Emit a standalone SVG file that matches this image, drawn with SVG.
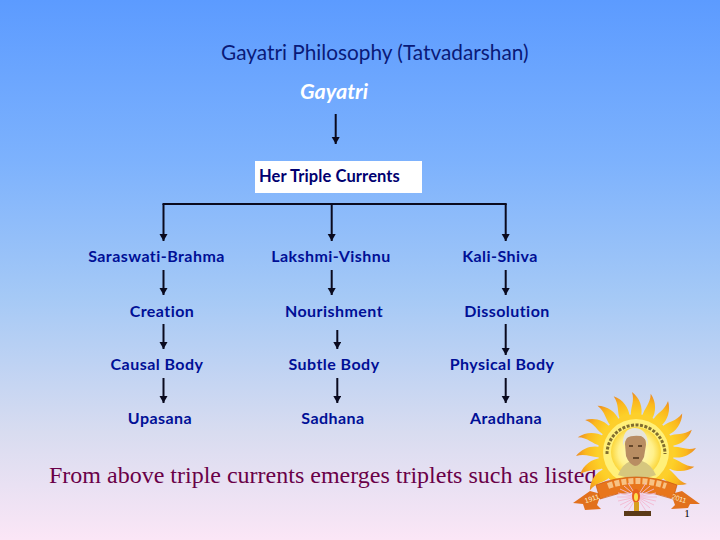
<svg xmlns="http://www.w3.org/2000/svg" width="720" height="540" viewBox="0 0 720 540">
<style>
.t{font-family:"Lato","Open Sans",sans-serif;}
.l{font-family:"Lato","Open Sans",sans-serif;font-weight:700;font-size:16px;fill:#000f96;text-anchor:middle;letter-spacing:.45px;}
.c{fill:none;stroke:#0a0a1e;stroke-width:2;}
.a{fill:none;stroke:#0a0a1e;stroke-width:2;marker-end:url(#h);}
</style>
<defs>
<linearGradient id="bg" x1="0" y1="0" x2="0" y2="1">
<stop offset="0" stop-color="#5c9bff"/><stop offset=".3" stop-color="#7db2fd"/><stop offset=".55" stop-color="#a5c9f6"/><stop offset=".8" stop-color="#d8dcf0"/><stop offset="1" stop-color="#fbe6f6"/>
</linearGradient>
<marker id="h" markerUnits="userSpaceOnUse" markerWidth="8" markerHeight="9" refX="7" refY="4" orient="auto"><path d="M0,0L7,4L0,8z" fill="#0a0a1e"/></marker>
<linearGradient id="fl" x1="0" y1="1" x2="0" y2="0"><stop offset="0" stop-color="#fdd52a"/><stop offset=".6" stop-color="#fbb81e"/><stop offset="1" stop-color="#ea8a24"/></linearGradient>
<radialGradient id="disk"><stop offset="0" stop-color="#fffbd0"/><stop offset=".7" stop-color="#fff08a"/><stop offset="1" stop-color="#fbd63a"/></radialGradient>
<path id="f" d="M-5,-36C-6,-44 -1,-50 -4,-60C4,-54 7,-44 5,-36Z" fill="url(#fl)"/>
</defs>
<rect width="720" height="540" fill="url(#bg)"/>
<text class="t" x="221" y="60" font-size="20.8" fill="#0a1a78">Gayatri Philosophy (Tatvadarshan)</text>
<text class="t" x="300" y="99" font-size="21.6" font-style="italic" font-weight="700" fill="#fff">Gayatri</text>
<g id="connectors">
<path class="a" d="M335.7,114V144"/>
<path class="c" d="M162.5,204H506.7"/>
<path class="a" d="M163.5,204V241"/><path class="a" d="M331.7,204V241"/><path class="a" d="M505.7,204V241"/>
<path class="a" d="M163.5,270V295"/><path class="a" d="M331.7,270V295"/><path class="a" d="M505.7,270V295"/>
<path class="a" d="M163.5,324V349"/><path class="a" d="M337.3,330V349"/><path class="a" d="M505.7,324V355"/>
<path class="a" d="M163.5,378V403"/><path class="a" d="M337.3,378V403"/><path class="a" d="M505.7,378V403"/>
</g>
<g id="currents"><rect x="255" y="161" width="167" height="32" fill="#fff"/><text class="t" x="259" y="182" font-size="16.5" font-weight="700" fill="#000070" letter-spacing=".1">Her Triple Currents</text></g>
<g id="n1"><text class="l" x="156.5" y="262">Saraswati-Brahma</text></g>
<g id="n2"><text class="l" x="331" y="262">Lakshmi-Vishnu</text></g>
<g id="n3"><text class="l" x="500" y="262">Kali-Shiva</text></g>
<g id="n4"><text class="l" x="162" y="317">Creation</text></g>
<g id="n5"><text class="l" x="334" y="317">Nourishment</text></g>
<g id="n6"><text class="l" x="507" y="317">Dissolution</text></g>
<g id="n7"><text class="l" x="157" y="370">Causal Body</text></g>
<g id="n8"><text class="l" x="334" y="370">Subtle Body</text></g>
<g id="n9"><text class="l" x="502" y="370">Physical Body</text></g>
<g id="n10"><text class="l" x="160" y="424">Upasana</text></g>
<g id="n11"><text class="l" x="333" y="424">Sadhana</text></g>
<g id="n12"><text class="l" x="506" y="424">Aradhana</text></g>
<text x="49" y="483" font-family="Liberation Serif,serif" font-size="24" fill="#6a0048">From above triple currents emerges triplets such as listed</text>
<g id="logo">
<g transform="translate(636,452)">
<use href="#f" transform="rotate(0)"/><use href="#f" transform="rotate(18)"/><use href="#f" transform="rotate(36)"/><use href="#f" transform="rotate(54)"/><use href="#f" transform="rotate(72)"/><use href="#f" transform="rotate(90)"/><use href="#f" transform="rotate(108)"/><use href="#f" transform="rotate(126)"/><use href="#f" transform="rotate(234)"/><use href="#f" transform="rotate(252)"/><use href="#f" transform="rotate(270)"/><use href="#f" transform="rotate(288)"/><use href="#f" transform="rotate(306)"/><use href="#f" transform="rotate(324)"/><use href="#f" transform="rotate(342)"/>
<circle r="38" fill="#fdcf2c"/>
<circle r="33" fill="#fff07a"/>
<circle r="25" fill="url(#disk)"/>
<path d="M-29,2A29,29 0 1 1 29,2" fill="none" stroke="#4a3410" stroke-width="3" stroke-dasharray="3 1.5" opacity=".7"/>
<path d="M-18,23Q-14,12 -5,9H6Q15,12 20,23Q2,30 -18,23Z" fill="#d6c77e"/>
<path d="M-11,-8Q-11,-19 -1,-19Q10,-19 10,-7L8,5Q4,14 -1,14Q-7,12 -10,4Z" fill="#b88d62"/>
<path d="M-13,-6Q-14,-24 -1,-24Q12,-23 12,-6Q10,-14 5,-16Q-5,-17 -9,-14Q-11,-11 -13,-6Z" fill="#e6e4dc"/>
<path d="M-7,-6H-3M2,-6H6M-3,6H3" stroke="#4a3018" stroke-width="1.4" fill="none"/>
</g>
<path d="M573,503L590,491L601,494L597,505L601,509L585,510L583,504Z" fill="#e2711d"/>
<path d="M700,504L682,491L671,494L675,505L671,509L688,508L690,504Z" fill="#e2711d"/>
<path d="M596,485Q636,469 677,485L673,499Q636,485 600,499Z" fill="#e8761c" stroke="#c9560f" stroke-width=".7"/>
<path d="M608,486Q636,476 666,486" fill="none" stroke="#fde3b0" stroke-width="6" stroke-dasharray="5 2" opacity=".7"/>
<text x="592" y="501" font-family="Liberation Sans,sans-serif" font-size="7" fill="#fff1c8" text-anchor="middle" transform="rotate(-18 592 499)">1911</text>
<text x="679" y="501" font-family="Liberation Sans,sans-serif" font-size="7" fill="#fff1c8" text-anchor="middle" transform="rotate(18 679 499)">2011</text>
<g transform="translate(637,497)" stroke="#f4b8d0" stroke-width=".9">
<path d="M-20,0H20M-17,-8L17,8M-17,8L17,-8M-9,-14L9,14M9,-14L-9,14M-13,-11L13,11M13,-11L-13,11M-19,-4L19,4M-19,4L19,-4"/>
</g>
<ellipse cx="636" cy="496" rx="4" ry="7" fill="#e8601c"/>
<ellipse cx="636" cy="497" rx="2" ry="4" fill="#fde04a"/>
<rect x="634" y="502" width="5" height="10" fill="#d8a020"/>
<rect x="624" y="511" width="27" height="5" fill="#5a3a18"/>
</g>
<text x="687" y="517" font-family="Liberation Serif,serif" font-size="11" fill="#000" text-anchor="middle">1</text>
</svg>
